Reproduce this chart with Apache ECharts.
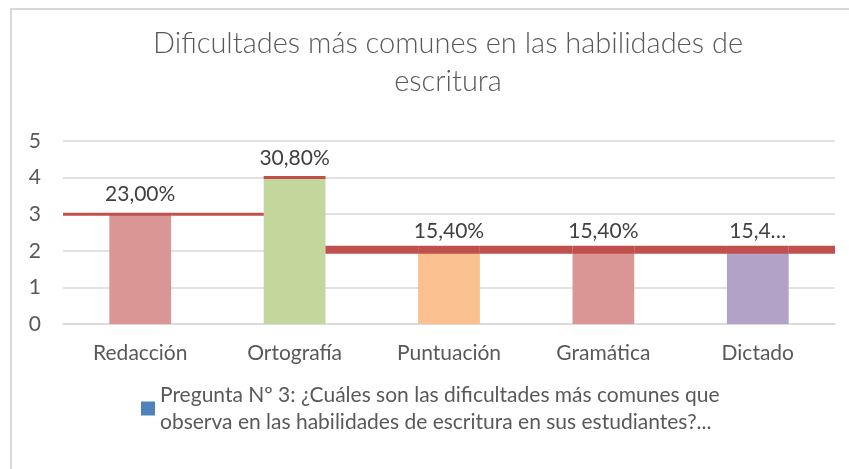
<!DOCTYPE html>
<html lang="es">
<head>
    <meta charset="UTF-8">
    <title>Dificultades de escritura</title>
    <script src="https://cdn.jsdelivr.net/npm/echarts@6/dist/echarts.min.js"></script>
    <style>
        html, body { margin: 0; padding: 0; background: #fff; }
        #chart { width: 849px; height: 469px; }
    </style>
</head>
<body>
    <div id="chart"></div>
    <script>
        var categories = ['Redacción', 'Ortografía', 'Puntuación', 'Gramática', 'Dictado'];
        var values = [3, 4, 2, 2, 2];
        var barLabels = ['23,00%', '30,80%', '15,40%', '15,40%', '15,4…'];
        var barColors = ['#d99694', '#c3d69b', '#fac090', '#d99694', '#b3a2c7'];
        var yTicks = [0, 1, 2, 3, 4, 5];
        var seriesName = 'Pregunta Nº 3: ¿Cuáles son las dificultades más comunes que\nobserva en las habilidades de escritura en sus estudiantes?...';

        var font = "Lato, 'Open Sans', sans-serif";
        var textColor = '#595959';
        var barRatio = 0.4;

        var chart = echarts.init(document.getElementById('chart'));

        // red step line drawn over the bars, horizontal pieces only
        function renderStep(params, api) {
            var i = params.dataIndex;
            var v = values[i];
            var pt = api.coord([i, v]);
            var band = api.size([1, 0])[0];
            var half = band * barRatio / 2;
            var cs = params.coordSys;
            var minV = Math.min.apply(null, values);
            var segs = [];
            var x0 = i === 0 ? cs.x : pt[0] - half;
            segs.push([x0, pt[0] + half, v]);
            var next = i < values.length - 1 ? values[i + 1] : null;
            var lvl = next === null ? v : Math.min(v, next);
            var x1 = next === null ? cs.x + cs.width : pt[0] + band - half;
            segs.push([pt[0] + half, x1, lvl]);
            return {
                type: 'group',
                children: segs.map(function(s) {
                    var w = s[2] === minV ? 8 : 3;
                    var y = api.coord([0, s[2]])[1] - (w > 3 ? 1 : 0);
                    return {
                        type: 'line',
                        shape: { x1: s[0], y1: y, x2: s[1], y2: y },
                        style: { stroke: '#c0504d', lineWidth: w }
                    };
                })
            };
        }

        var option = {
            animation: false,
            backgroundColor: '#fff',
            title: {
                text: 'Dificultades más comunes en las habilidades de\nescritura',
                left: 443,
                textAlign: 'center',
                top: 20,
                textStyle: {
                    fontFamily: font,
                    fontWeight: 300,
                    fontSize: 29,
                    lineHeight: 38,
                    color: textColor
                }
            },
            graphic: [{
                type: 'polyline',
                shape: { points: [[11, 469], [11, 9], [849, 9]] },
                style: { stroke: '#d9d9d9', lineWidth: 2, fill: null }
            }],
            legend: {
                data: [seriesName],
                left: 136,
                top: 363,
                icon: 'rect',
                itemWidth: 14,
                itemHeight: 14,
                textStyle: {
                    fontFamily: font,
                    fontSize: 21,
                    lineHeight: 27,
                    color: textColor,
                    padding: [27, 0, 0, 0]
                }
            },
            grid: {
                left: 63,
                right: 14,
                top: 141,
                bottom: 145
            },
            xAxis: {
                type: 'category',
                data: categories,
                axisTick: { show: false },
                axisLine: { lineStyle: { color: '#d9d9d9', width: 1.5 } },
                axisLabel: {
                    margin: 19,
                    fontFamily: font,
                    fontSize: 21,
                    color: textColor
                }
            },
            yAxis: {
                type: 'value',
                min: 0,
                max: yTicks[yTicks.length - 1],
                interval: 1,
                axisLine: { show: false },
                axisTick: { show: false },
                splitLine: { lineStyle: { color: '#d9d9d9', width: 1.5 } },
                axisLabel: {
                    margin: 22,
                    fontFamily: font,
                    fontSize: 21,
                    color: textColor
                }
            },
            series: [{
                name: seriesName,
                type: 'bar',
                barWidth: (barRatio * 100) + '%',
                itemStyle: { color: '#4f81bd' },
                data: values.map(function(v, i) {
                    return { value: v, itemStyle: { color: barColors[i] } };
                }),
                label: {
                    show: true,
                    position: 'top',
                    distance: 9,
                    fontFamily: font,
                    fontSize: 21,
                    color: '#404040',
                    formatter: function(p) { return barLabels[p.dataIndex]; }
                },
                z: 2
            }, {
                type: 'custom',
                renderItem: renderStep,
                data: values.map(function(v, i) { return [i, v]; }),
                silent: true,
                z: 3
            }]
        };
        chart.setOption(option);
    </script>
</body>
</html>
